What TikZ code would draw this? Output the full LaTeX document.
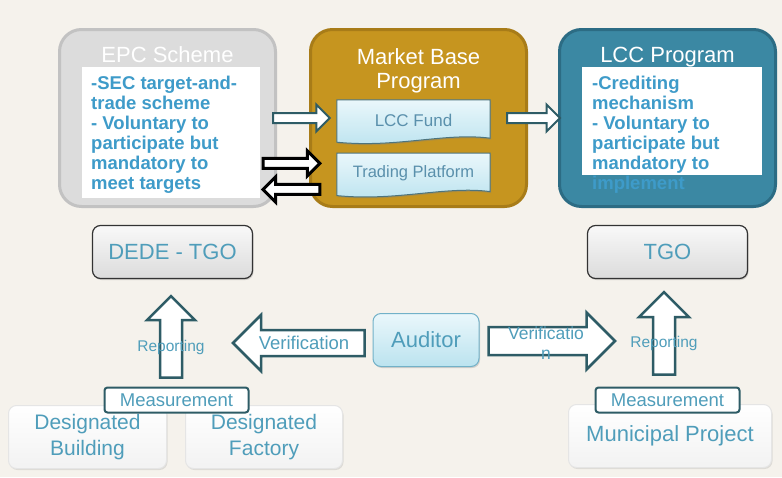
\documentclass[tikz,border=0pt]{standalone}
\usepackage{fontspec}
\setmainfont{Liberation Sans}
\usetikzlibrary{positioning,calc,shadows}

\definecolor{paper}{HTML}{F5F2EC}
\definecolor{notecol}{HTML}{3E9BC9}
\definecolor{labelcol}{HTML}{4F9DBA}
\definecolor{fundtext}{HTML}{5A90AC}
\definecolor{arrowline}{HTML}{2E5C66}
\definecolor{goldfill}{HTML}{C6951F}
\definecolor{golddraw}{HTML}{A87C18}
\definecolor{tealfill}{HTML}{3B88A3}
\definecolor{tealdraw}{HTML}{2C6C84}
\definecolor{grayfill}{HTML}{DCDCDC}
\definecolor{graydraw}{HTML}{C2C2C2}
\definecolor{icetop}{HTML}{EAF7FB}
\definecolor{icebottom}{HTML}{BBE3EF}

% hollow block arrow: #2 -> #3, half shaft #4, half head #5
\newcommand{\blockarrow}[5][]{%
  \path ($(#3)!#5!(#2)$) coordinate (HeadBase);
  \draw[#1] ($(#2)!#4!90:(#3)$) -- ($(HeadBase)!#4!-90:(#2)$) -- ($(HeadBase)!#5!-90:(#2)$) -- (#3)
    -- ($(HeadBase)!#5!90:(#2)$) -- ($(HeadBase)!#4!90:(#2)$) -- ($(#2)!#4!-90:(#3)$) -- cycle;
}

% box with a wavy lower edge round node #1
\newcommand{\wavybox}[1]{%
  \shade[top color=icetop,bottom color=icebottom,draw=arrowline!85,line width=1pt,
    drop shadow={opacity=0.35,shadow xshift=1pt,shadow yshift=-1.5pt}]
    (#1.north west) -- (#1.north east) -- ($(#1.south east)+(0,-2)$)
    .. controls ($(#1.south east)+(-45,-8)$) and ($(#1.south west)+(60,8)$) .. ($(#1.south west)+(0,2)$) -- cycle;
}

\begin{document}
\begin{tikzpicture}[x=1pt,y=-1pt,
    bigbox/.style={rectangle,rounded corners=22pt,line width=3pt,minimum width=216pt,minimum height=177pt},
    title/.style={text=white,font=\fontsize{22}{24}\selectfont,align=center},
    note/.style={rectangle,fill=white,inner sep=0pt,anchor=north west},
    notetext/.style={text=notecol,font=\bfseries\fontsize{18.5}{20}\selectfont,align=left,anchor=north west,inner xsep=10pt,inner ysep=9pt},
    fundbox/.style={rectangle,minimum width=153pt,minimum height=40pt,text=fundtext},
    agency/.style={rectangle,rounded corners=8pt,draw=black!80,line width=1.2pt,top color=gray!5,bottom color=gray!28,
      minimum width=160pt,minimum height=53pt,text=labelcol,font=\fontsize{22}{24}\selectfont,
      drop shadow={opacity=0.3,shadow xshift=1pt,shadow yshift=-1.5pt}},
    auditbox/.style={rectangle,rounded corners=8pt,draw=labelcol!80,line width=1pt,top color=icetop,bottom color=icebottom,
      minimum width=106pt,minimum height=53pt,text=labelcol,font=\fontsize{22}{24}\selectfont,
      drop shadow={opacity=0.3,shadow xshift=1pt,shadow yshift=-1.5pt}},
    measure/.style={rectangle,rounded corners=3pt,draw=arrowline,line width=2pt,fill=white,
      minimum width=144pt,minimum height=25pt,inner sep=0pt,text=labelcol,font=\fontsize{18.5}{19}\selectfont},
    site/.style={rectangle,rounded corners=8pt,draw=black!10,line width=1pt,top color=white,bottom color=gray!10,
      minimum height=63pt,text=labelcol,font=\fontsize{21}{26}\selectfont,align=center,
      drop shadow={opacity=0.2,shadow xshift=1pt,shadow yshift=-1.5pt}},
    arrowlabel/.style={text=labelcol,font=\fontsize{15.5}{20}\selectfont,align=center,inner sep=0pt},
    hollow/.style={draw=arrowline,line width=2.5pt,fill=white,line join=miter},
    hollowblack/.style={draw=black,line width=3pt,fill=white,line join=miter}]

  \fill[paper] (0,0) rectangle (782,477);
  \useasboundingbox (0,0) rectangle (782,477);

  % programmes
  \node[bigbox,fill=grayfill,draw=graydraw] (EPC) at (167.5,118) {};
  \node[bigbox,fill=goldfill,draw=golddraw] (Market) [right=32pt of EPC] {};
  \node[bigbox,fill=tealfill,draw=tealdraw] (LCC) [right=30pt of Market] {};

  \node[title] (EPCTitle) at ([yshift=-27pt]EPC.north) {EPC Scheme};
  \node[title] (MarketTitle) at ([yshift=-43pt]Market.north) {Market Base\\Program};
  \node[title] (LCCTitle) at ([yshift=-29pt]LCC.north) {LCC Program};

  \node[note,minimum width=178pt,minimum height=131pt] (EPCNote) at (82,67) {};
  \node[notetext] (EPCText) at ([xshift=-1pt]EPCNote.north west)
    {-SEC target-and-\\trade scheme\\- Voluntary to\\participate but\\mandatory to\\meet targets};
  \node[note,minimum width=180pt,minimum height=108pt] (LCCNote) at (582,67) {};
  \node[notetext] (LCCText) at (LCCNote.north west)
    {-Crediting\\mechanism\\- Voluntary to\\participate but\\mandatory to\\implement};

  \node[fundbox,font=\fontsize{17}{18}\selectfont] (LCCFund) at (413.5,120) {};
  \node[fundbox,font=\fontsize{16.5}{18}\selectfont] (TradingPlatform) [below=13pt of LCCFund] {};
  \wavybox{LCCFund}
  \wavybox{TradingPlatform}
  \node[fundbox,font=\fontsize{17}{18}\selectfont] (LCCFundText) at (LCCFund) {LCC Fund};
  \node[fundbox,font=\fontsize{16.5}{18}\selectfont] (TradingText) at (TradingPlatform) {Trading Platform};

  \coordinate (EpcOut) at ($(EPC.east)+(-4,0)$);
  \coordinate (FundIn) at ($(LCCFund.west |- EPC.east)+(-7,0)$);
  \coordinate (FundOut) at ($(LCCFund.east |- LCC.west)+(17,0)$);
  \coordinate (LccIn) at ($(LCC.west)+(2,0)$);
  \coordinate (TradeIn) at ($(TradingPlatform.west)+(-17,-10)$);
  \coordinate (TradeOut) at ($(TradingPlatform.west)+(-17,16)$);
  \coordinate (EpcTradeIn) at ($(EPC.east |- TradeIn)+(-14,0)$);
  \coordinate (EpcTradeOut) at ($(EPC.east |- TradeOut)+(-14,0)$);

  \blockarrow[hollow,line width=2pt]{EpcOut}{FundIn}{5pt}{13.5pt}
  \blockarrow[hollow,line width=2pt]{FundOut}{LccIn}{5pt}{13.5pt}
  \blockarrow[hollowblack]{EpcTradeIn}{TradeIn}{5pt}{12.5pt}
  \blockarrow[hollowblack]{TradeOut}{EpcTradeOut}{5pt}{12.5pt}

  % agencies and auditor
  \node[agency] (DEDE) at (172.5,252) {DEDE - TGO};
  \node[agency] (TGO) at (667.5,252) {TGO};
  \node[auditbox] (Auditor) at (426,340) {Auditor};

  % sites
  \node[site,minimum width=158pt] (Building) at (87.5,437) {Designated\\Building};
  \node[site,minimum width=157pt] (Factory) at (264,437) {Designated\\Factory};
  \node[site,minimum width=203pt,font=\fontsize{22}{26}\selectfont] (Municipal) at (670,436) {Municipal Project};
  \node[measure] (MeasLeft) at (176.5,400) {Measurement};
  \node[measure] (MeasRight) at (667.5,400) {Measurement};

  % reporting and verification
  \coordinate (RepLeftTip) at ($(DEDE.south)+(-1.5,17)$);
  \coordinate (RepLeftFoot) at ($(MeasLeft.north -| RepLeftTip)+(0,-9)$);
  \coordinate (RepRightTip) at ($(TGO.south)+(-3.5,13)$);
  \coordinate (RepRightFoot) at ($(MeasRight.north -| RepRightTip)+(0,-12)$);
  \coordinate (VerLeftFoot) at ($(Auditor.west)+(-8,3)$);
  \coordinate (VerLeftTip) at (233,343);
  \coordinate (VerRightFoot) at ($(Auditor.east)+(9,1)$);
  \coordinate (VerRightTip) at (615,341);

  \blockarrow[hollow]{RepLeftFoot}{RepLeftTip}{11pt}{24pt}
  \blockarrow[hollow]{RepRightFoot}{RepRightTip}{11pt}{25pt}
  \blockarrow[hollow]{VerLeftFoot}{VerLeftTip}{13pt}{28pt}
  \blockarrow[hollow]{VerRightFoot}{VerRightTip}{14pt}{28.5pt}

  \node[arrowlabel] (RepLeftLabel) at (171,347) {Reporting};
  \node[arrowlabel] (RepRightLabel) at (664,343) {Reporting};
  \node[arrowlabel,font=\fontsize{18.5}{20}\selectfont] (VerLeftLabel) at (304,343) {Verification};
  \node[arrowlabel,font=\fontsize{17.5}{20}\selectfont] (VerRightLabel) at (546,343) {Verificatio\\n};
\end{tikzpicture}
\end{document}
